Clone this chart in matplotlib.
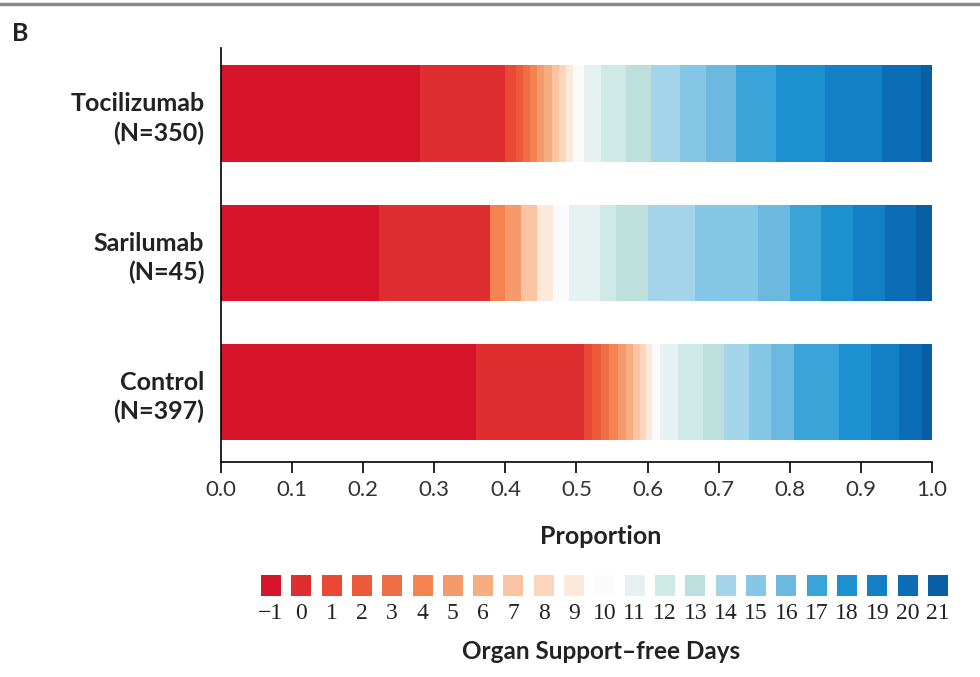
import matplotlib
matplotlib.use("Agg")
from matplotlib import pyplot as plt
import numpy as np

# organ support-free days categories (-1 = death)
days = list(range(-1, 22))
day_labels = ["\u22121"] + [str(d) for d in range(0, 22)]

groups = ["Control\n(N=397)", "Sarilumab\n(N=45)", "Tocilizumab\n(N=350)"]

# proportions per category
tocilizumab = [0.280, 0.120, 0.015, 0.010, 0.010, 0.010, 0.010, 0.010, 0.010, 0.010,
               0.010, 0.015, 0.025, 0.035, 0.035, 0.040, 0.037, 0.042, 0.056, 0.070,
               0.080, 0.055, 0.015]
sarilumab_counts = [10, 7, 0, 0, 0, 1, 1, 0, 1, 0, 1, 1, 2, 1, 2, 3, 4, 2, 2, 2, 2, 2, 1]
control = [0.358, 0.152, 0.012, 0.012, 0.012, 0.012, 0.012, 0.010, 0.010, 0.008,
           0.008, 0.012, 0.025, 0.035, 0.030, 0.035, 0.030, 0.033, 0.063, 0.045,
           0.040, 0.032, 0.014]

colors = ["#d6142a", "#df2e2f", "#e84834", "#ed5a3a", "#f06e45", "#f4834f",
          "#f59a6a", "#f8ad80", "#fac4a2", "#fbd6bd", "#fde9dc", "#fbfbfb",
          "#e6f2f2", "#cfe9e6", "#bde0dc", "#a3d4ea", "#86c6e6", "#6cb8de",
          "#3aa3d8", "#1d90cf", "#137fc4", "#0a6db6", "#0a5ea6"]

sarilumab = np.array(sarilumab_counts) / 45
data = [np.array(control) / np.sum(control), sarilumab,
        np.array(tocilizumab) / np.sum(tocilizumab)]

sans = ["Lato", "DejaVu Sans"]
fig = plt.figure(figsize=(9.8, 6.77), dpi=100)

ax = fig.add_axes([0.2255, 0.3176, 0.7255, 0.6114])
y = np.arange(len(groups))
left = np.zeros(len(groups))
for i in range(len(days)):
    vals = np.array([d[i] for d in data])
    ax.barh(y, vals, left=left, height=0.69, color=colors[i], linewidth=0)
    left += vals

ax.set_xlim(0, 1.0)
ax.set_ylim(-0.5, 2.47)
ax.set_xticks(np.arange(0, 1.01, 0.1))
ax.set_xticklabels([f"{v:.1f}" for v in np.arange(0, 1.01, 0.1)],
                   fontsize=16, family=sans, color="#333333")
ax.set_yticks(y)
ax.set_yticklabels(groups, fontsize=18, fontweight="bold", family=sans,
                   color="#222222", linespacing=1.3)
ax.tick_params(axis="y", length=0, pad=12)
ax.tick_params(axis="x", length=8, width=1.2, pad=5)
for s in ["top", "right"]:
    ax.spines[s].set_visible(False)
ax.spines["left"].set_linewidth(1.2)
ax.spines["bottom"].set_linewidth(1.2)

fig.text(0.613, 0.207, "Proportion", fontsize=18, fontweight="bold", family=sans,
         color="#222222", ha="center", va="center")

# colour key
lg = fig.add_axes([0.261, 0.1196, 0.7115, 0.031])
lg.bar(np.arange(len(days)), 1, width=0.66, color=colors, linewidth=0)
lg.set_xlim(-0.5, len(days) - 0.5)
lg.set_ylim(0, 1)
lg.set_xticks(np.arange(len(days)))
lg.set_xticklabels(day_labels, fontsize=17, family=["Liberation Serif", "DejaVu Serif"],
                   color="#222222")
lg.tick_params(axis="x", length=0, pad=5)
lg.set_yticks([])
for s in lg.spines.values():
    s.set_visible(False)

fig.text(0.613, 0.038, "Organ Support\u2013free Days", fontsize=17.5, fontweight="bold",
         family=sans, color="#222222", ha="center", va="center")
fig.text(0.012, 0.951, "B", fontsize=18, fontweight="bold", family=sans,
         color="#222222", ha="left", va="center")
fig.add_artist(plt.Line2D([0, 1], [0.994, 0.994], color="#8a8a8a", linewidth=2.5,
                          transform=fig.transFigure))

fig.savefig("out.png", dpi=100)
